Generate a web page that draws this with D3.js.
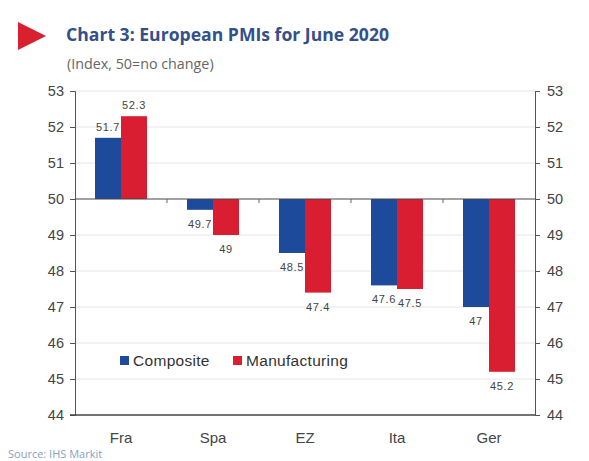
<!DOCTYPE html>
<html><head><meta charset="utf-8">
<script src="https://cdn.jsdelivr.net/npm/d3@7"></script>
<style>body{margin:0;background:#fff;}svg{display:block;font-family:"Liberation Sans",Arial,sans-serif;}</style>
</head><body>
<script>
const categories = ["Fra","Spa","EZ","Ita","Ger"];
const composite = [51.7,49.7,48.5,47.6,47];
const manufacturing = [52.3,49,47.4,47.5,45.2];
const seriesNames = ["Composite","Manufacturing"];
const yTicks = [44,45,46,47,48,49,50,51,52,53];

const W=589,H=461;
const svg=d3.select("body").append("svg").attr("width",W).attr("height",H);
const m={l:75,r:54,t:91,b:46};
const x=d3.scaleBand().domain(categories).range([m.l,W-m.r]);
const y=d3.scaleLinear().domain([44,53]).range([H-m.b,m.t]);
const xs=d3.scaleBand().domain(seriesNames).range([0,52]);
const colors={Composite:"#1d4a9b",Manufacturing:"#d81e30"};

// title
svg.append("path").attr("d","M18,22 L46,36 L18,50 Z").attr("fill","#d9202e");
svg.append("text").attr("x",66).attr("y",41).attr("font-family","'Open Sans',sans-serif").attr("font-size",17.6).attr("font-weight","bold").attr("fill","#34508a").text("Chart 3: European PMIs for June 2020");
svg.append("text").attr("x",67).attr("y",69).attr("font-family","'Open Sans',sans-serif").attr("font-size",14.3).attr("fill","#666").text("(Index, 50=no change)");

// gridlines
svg.append("g").selectAll("line").data(yTicks.filter(d=>d!==44&&d!==50)).join("line")
 .attr("x1",m.l).attr("x2",W-m.r).attr("y1",d=>y(d)).attr("y2",d=>y(d)).attr("stroke","#e6e6e6");

const data=categories.map((c,i)=>({c,vals:[{s:"Composite",v:composite[i]},{s:"Manufacturing",v:manufacturing[i]}]}));
const g=svg.append("g");
data.forEach(d=>{
  d.vals.forEach(e=>{
    const bx=x(d.c)+(x.bandwidth()-52)/2+xs(e.s);
    g.append("rect").attr("x",bx).attr("width",xs.bandwidth())
     .attr("y",y(Math.max(50,e.v))).attr("height",Math.abs(y(e.v)-y(50))).attr("fill",colors[e.s]);
    const ly = e.v>=50 ? y(e.v)-7 : y(e.v)+18;
    g.append("text").attr("x",bx+xs.bandwidth()/2).attr("y",ly).attr("text-anchor","middle")
     .attr("font-size",11).attr("letter-spacing","0.6").attr("fill","#444").text(String(e.v));
  });
});

// axes
const yl=d3.axisLeft(y).tickValues(yTicks).tickSize(5).tickPadding(6).tickFormat(d3.format("d"));
const yr=d3.axisRight(y).tickValues(yTicks).tickSize(5).tickPadding(7).tickFormat(d3.format("d"));
const gl=svg.append("g").attr("transform",`translate(${m.l},0)`).call(yl);
const gr=svg.append("g").attr("transform",`translate(${W-m.r},0)`).call(yr);
[gl,gr].forEach(a=>{a.select(".domain").attr("stroke","#555");a.selectAll("line").attr("stroke","#555");a.selectAll("text").attr("font-size",14.5).attr("fill","#444").attr("font-family","'Liberation Sans',sans-serif");});

// x axis at 50 with ticks between categories
svg.append("line").attr("x1",m.l).attr("x2",W-m.r).attr("y1",y(50)).attr("y2",y(50)).attr("stroke","#444").attr("stroke-width",1.2);
svg.append("g").selectAll("line").data(categories.slice(1)).join("line")
 .attr("x1",d=>x(d)).attr("x2",d=>x(d)).attr("y1",y(50)).attr("y2",y(50)+4).attr("stroke","#666");
// bottom line
svg.append("line").attr("x1",m.l-5).attr("x2",W-m.r).attr("y1",y(44)).attr("y2",y(44)).attr("stroke","#444").attr("stroke-width",1.5);
// category labels
svg.append("g").selectAll("text").data(categories).join("text")
 .attr("x",d=>x(d)+x.bandwidth()/2).attr("y",y(44)+28).attr("text-anchor","middle")
 .attr("font-size",15).attr("fill","#444").attr("font-family","'Liberation Sans',sans-serif").text(d=>d);

// legend
const lg=svg.append("g").attr("transform","translate(120,366)");
seriesNames.forEach((s,i)=>{
  const ox=i*113;
  lg.append("rect").attr("x",ox).attr("y",-10).attr("width",9).attr("height",9).attr("fill",colors[s]);
  lg.append("text").attr("x",ox+13).attr("y",0).attr("font-size",15.5).attr("letter-spacing","0.3").attr("fill","#333").text(s);
});

// source
svg.append("text").attr("x",8).attr("y",458).attr("font-family","'Open Sans',sans-serif").attr("font-size",11).attr("fill","#8aa0c0").text("Source: IHS Markit");
</script>
</body></html>
